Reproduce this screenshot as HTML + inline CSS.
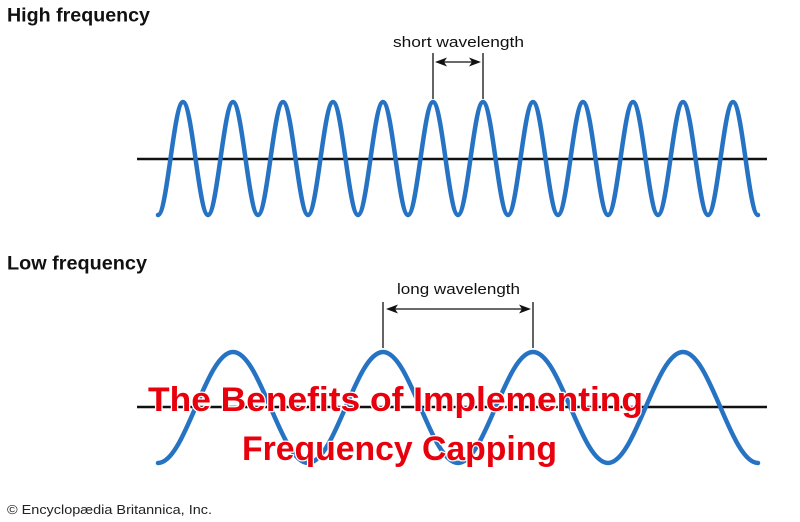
<!DOCTYPE html>
<html><head><meta charset="utf-8">
<style>
html,body{margin:0;padding:0;background:#fff;}
svg{display:block;}
</style></head>
<body>
<svg width="800" height="522" viewBox="0 0 800 522" xmlns="http://www.w3.org/2000/svg">
<rect width="800" height="522" fill="#fff"/>
<!-- Titles -->
<text x="7" y="21.5" font-family="Liberation Sans, Arial, sans-serif" font-weight="bold" font-size="19" fill="#111" textLength="143" lengthAdjust="spacingAndGlyphs">High frequency</text>
<text x="7" y="269.5" font-family="Liberation Sans, Arial, sans-serif" font-weight="bold" font-size="19" fill="#111" textLength="140" lengthAdjust="spacingAndGlyphs">Low frequency</text>

<!-- Top axis -->
<line x1="137" y1="159" x2="767" y2="159" stroke="#111" stroke-width="2.6"/>
<!-- Top wave -->
<path d="M158,215 C167.1,215 173.9,102 183,102 S198.9,215 208,215 S223.9,102 233,102 S248.9,215 258,215 S273.9,102 283,102 S298.9,215 308,215 S323.9,102 333,102 S348.9,215 358,215 S373.9,102 383,102 S398.9,215 408,215 S423.9,102 433,102 S448.9,215 458,215 S473.9,102 483,102 S498.9,215 508,215 S523.9,102 533,102 S548.9,215 558,215 S573.9,102 583,102 S598.9,215 608,215 S623.9,102 633,102 S648.9,215 658,215 S673.9,102 683,102 S698.9,215 708,215 S723.9,102 733,102 S748.9,215 758,215" fill="none" stroke="#2673c4" stroke-width="4.5" stroke-linecap="round"/>

<!-- short wavelength -->
<text x="393" y="47" font-family="Liberation Sans, Arial, sans-serif" font-size="15" fill="#111" textLength="131" lengthAdjust="spacingAndGlyphs">short wavelength</text>
<line x1="433" y1="53" x2="433" y2="99" stroke="#111" stroke-width="1.3"/>
<line x1="483" y1="53" x2="483" y2="99" stroke="#111" stroke-width="1.3"/>
<line x1="440" y1="62" x2="476" y2="62" stroke="#111" stroke-width="1.3"/>
<polygon points="435,62 447,57.5 444,62 447,66.5" fill="#111"/>
<polygon points="481,62 469,57.5 472,62 469,66.5" fill="#111"/>

<!-- Bottom axis -->
<line x1="137" y1="407" x2="767" y2="407" stroke="#111" stroke-width="2.6"/>
<!-- Bottom wave -->
<path d="M158,463 C185.3,463 205.7,352 233,352 S280.7,463 308,463 S355.7,352 383,352 S430.7,463 458,463 S505.7,352 533,352 S580.7,463 608,463 S655.7,352 683,352 S730.7,463 758,463" fill="none" stroke="#2673c4" stroke-width="4.5" stroke-linecap="round"/>

<!-- long wavelength -->
<text x="397" y="294" font-family="Liberation Sans, Arial, sans-serif" font-size="15" fill="#111" textLength="123" lengthAdjust="spacingAndGlyphs">long wavelength</text>
<line x1="383" y1="302" x2="383" y2="348" stroke="#111" stroke-width="1.3"/>
<line x1="533" y1="302" x2="533" y2="348" stroke="#111" stroke-width="1.3"/>
<line x1="392" y1="309" x2="526" y2="309" stroke="#111" stroke-width="1.3"/>
<polygon points="386,309 398,304.5 395,309 398,313.5" fill="#111"/>
<polygon points="531,309 519,304.5 522,309 519,313.5" fill="#111"/>

<!-- Overlay title -->
<g font-family="Liberation Sans, DejaVu Sans, sans-serif" font-weight="bold" font-size="34" fill="#e8000c" stroke="#fff" stroke-width="2.5" paint-order="stroke" stroke-linejoin="round">
<text x="148" y="411" textLength="495" lengthAdjust="spacingAndGlyphs">The Benefits of Implementing</text>
<text x="242" y="460" textLength="315" lengthAdjust="spacingAndGlyphs">Frequency Capping</text>
</g>

<!-- Copyright -->
<text x="7" y="514" font-family="Liberation Sans, Arial, sans-serif" font-size="13" fill="#222" textLength="205" lengthAdjust="spacingAndGlyphs">© Encyclopædia Britannica, Inc.</text>
</svg>
</body></html>
